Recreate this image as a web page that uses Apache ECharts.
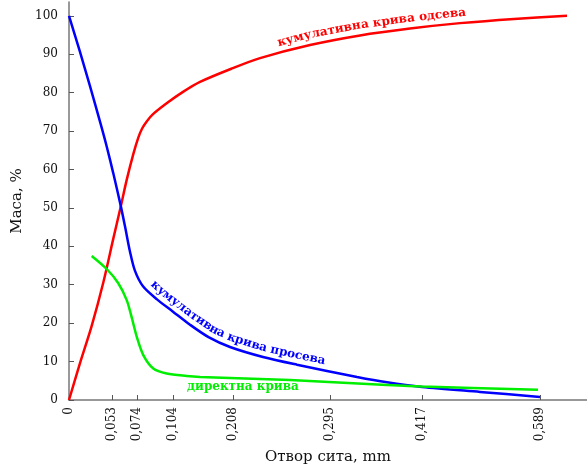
<!DOCTYPE html>
<html>
<head>
<meta charset="utf-8">
<script src="https://cdn.jsdelivr.net/npm/echarts@6/dist/echarts.min.js"></script>
<style>
html, body { margin: 0; padding: 0; background: #fff; }
#chart { width: 587px; height: 467px; }
</style>
</head>
<body>
<div id="chart"></div>
<script>
// положаји подеока на x оси (оса није у размери, па су то само места на цртежу)
var xTickPos = [0, 43, 68, 104, 164, 261, 353, 471]
var xTickLabels = ['0', '0,053', '0,074', '0,104', '0,208', '0,295', '0,417', '0,589']
var yTicks = [0, 10, 20, 30, 40, 50, 60, 70, 80, 90, 100]

// кумулативна крива одсева
var odsevX = [0, 11, 22.7, 34.3, 44.3, 51.7, 57.7, 64.3, 69.3, 73, 77.7, 84, 98, 114, 131, 163, 191, 241, 291, 341, 391, 445, 498]
var odsevY = [0, 9.6, 19.3, 30.6, 42, 50.3, 57.3, 64, 68.3, 70.6, 72.5, 74.4, 77.3, 80.2, 82.8, 86.3, 89, 92.4, 94.9, 96.7, 98.1, 99.2, 100]

// кумулативна крива просева
var prosevX = [0, 11, 21, 31.7, 37.7, 44.3, 51.7, 56, 61, 66, 74, 88, 104, 121, 140, 161, 194, 228, 288, 318, 353, 411, 471]
var prosevY = [100, 90.6, 81.7, 71.8, 66, 59, 50.6, 45.2, 38.6, 33.6, 29.6, 26.2, 23, 19.6, 16.3, 13.8, 11.2, 9.2, 6.0, 4.6, 3.4, 2.1, 0.8]

// директна крива
var direktX = [22.7, 37.7, 49.3, 57.7, 62.7, 67.7, 74.3, 84.3, 97.7, 117.7, 131, 221, 318, 353, 469]
var direktY = [37.5, 34.1, 30.4, 26, 21.5, 16.5, 11.7, 8.2, 6.9, 6.25, 6.0, 5.2, 3.9, 3.5, 2.7]

var textFont = 'DejaVu Serif'
var chart = echarts.init(document.getElementById('chart'))

function zip(xs, ys) {
    return xs.map(function (x, i) { return [x, ys[i]] })
}

function lineSeries(xs, ys, color) {
    return {
        type: 'line',
        data: zip(xs, ys),
        smooth: 0.3,
        showSymbol: false,
        lineStyle: { color: color, width: 2.5 },
        z: 3
    }
}

chart.setOption({
    animation: false,
    grid: { left: 69, right: 0, top: 2, bottom: 67, containLabel: false, outerBoundsMode: 'none' },
    xAxis: {
        type: 'value',
        min: 0,
        max: 518,
        name: 'Отвор сита, mm',
        nameLocation: 'middle',
        nameGap: 50,
        nameTextStyle: { fontFamily: textFont, fontSize: 15, color: '#111' },
        axisLine: { lineStyle: { color: '#777', width: 1.5 } },
        axisTick: { inside: true, length: 5, customValues: xTickPos, lineStyle: { color: '#555' } },
        axisLabel: {
            customValues: xTickPos,
            rotate: 90,
            margin: 7,
            fontFamily: textFont,
            fontSize: 12,
            color: '#111',
            formatter: function (v) {
                return xTickLabels[xTickPos.indexOf(v)]
            }
        },
        splitLine: { show: false }
    },
    yAxis: {
        type: 'value',
        min: 0,
        max: 103.6,
        name: 'Маса, %',
        nameLocation: 'middle',
        nameGap: 43,
        nameTextStyle: { fontFamily: textFont, fontSize: 15, color: '#111' },
        axisLine: { show: true, lineStyle: { color: '#777', width: 1.5 } },
        axisTick: { show: true, inside: true, length: 5, customValues: yTicks, lineStyle: { color: '#555' } },
        axisLabel: { customValues: yTicks, margin: 11, fontFamily: textFont, fontSize: 12, color: '#111' },
        splitLine: { show: false }
    },
    series: [
        lineSeries(odsevX, odsevY, '#ff0000'),
        lineSeries(prosevX, prosevY, '#0000ff'),
        lineSeries(direktX, direktY, '#00ee00')
    ]
})

// натпис који прати криву, слово по слово
function curveText(xs, ys, text, startPx, offset, color, font) {
    var pts = xs.map(function (x, i) { return chart.convertToPixel({ gridIndex: 0 }, [x, ys[i]]) })
    var acc = [0]
    for (var i = 1; i < pts.length; i++) {
        acc.push(acc[i - 1] + Math.hypot(pts[i][0] - pts[i - 1][0], pts[i][1] - pts[i - 1][1]))
    }
    function pointAt(s) {
        var k = 0
        while (k < pts.length - 2 && acc[k + 1] < s) k++
        var t = (s - acc[k]) / (acc[k + 1] - acc[k])
        return [pts[k][0] + t * (pts[k + 1][0] - pts[k][0]), pts[k][1] + t * (pts[k + 1][1] - pts[k][1])]
    }
    // почетак: прва тачка криве десно од startPx
    var s0 = 0
    for (var s = 0; s < acc[acc.length - 1]; s += 0.5) {
        if (pointAt(s)[0] >= startPx) { s0 = s; break }
    }
    var ctx = document.createElement('canvas').getContext('2d')
    ctx.font = font
    var els = []
    var pos = s0
    for (var c = 0; c < text.length; c++) {
        var w = ctx.measureText(text[c]).width
        var mid = pos + w / 2
        var p = pointAt(mid)
        var a = pointAt(mid - 8), b = pointAt(mid + 8)
        var ang = Math.atan2(b[1] - a[1], b[0] - a[0])
        els.push({
            type: 'text',
            x: p[0] + Math.sin(ang) * offset,
            y: p[1] - Math.cos(ang) * offset,
            rotation: -ang,
            z: 10,
            style: { text: text[c], font: font, fill: color, align: 'center', verticalAlign: 'middle' }
        })
        pos += w
    }
    return els
}

var labelFont = 'bold 12px "DejaVu Serif"'
var greenPos = chart.convertToPixel({ gridIndex: 0 }, [118, 3.5])
var graphics = []
    .concat(curveText(odsevX, odsevY, 'кумулативна крива одсева', 280, 10, '#ff0000', labelFont))
    .concat(curveText(prosevX, prosevY, 'кумулативна крива просева', 146, 9, '#0000ff', labelFont))
graphics.push({
    type: 'text',
    x: greenPos[0],
    y: greenPos[1],
    z: 10,
    style: { text: 'директна крива', font: labelFont, fill: '#00ee00', align: 'left', verticalAlign: 'middle' }
})
chart.setOption({ graphic: graphics })
</script>
</body>
</html>
